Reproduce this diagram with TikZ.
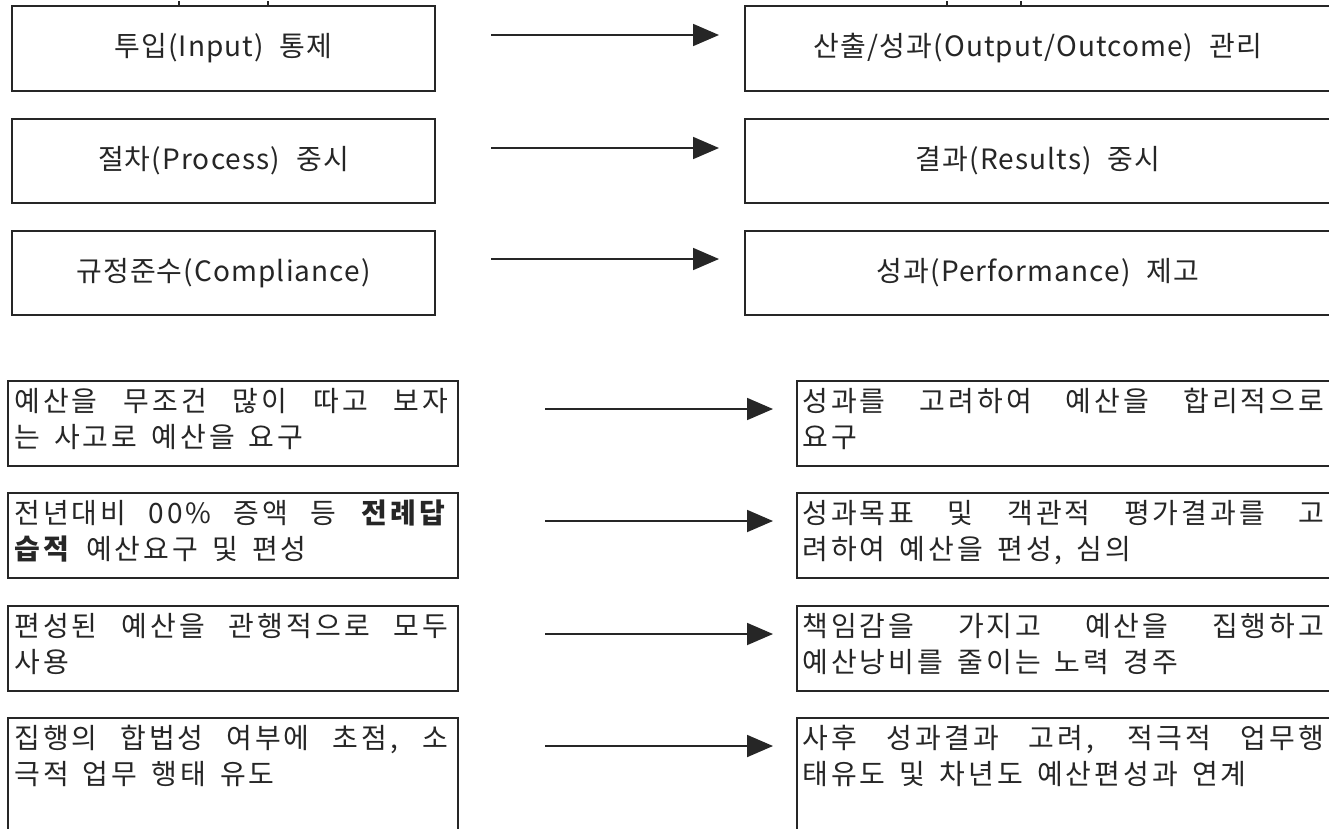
\documentclass[tikz,border=0pt]{standalone}
\usepackage{fontspec}
\setmainfont{Noto Sans CJK KR}[WordSpace=2]
\newfontfamily\topfont{Noto Sans CJK KR}[WordSpace=2, LetterSpace=4]
\newfontfamily\bodyfont{Noto Sans CJK KR}[WordSpace=1.5, LetterSpace=11]
\usetikzlibrary{arrows.meta,calc}
\newcommand{\gp}{\hspace{16pt}}
\newcommand{\jl}[2]{\rule{0pt}{24pt}\makebox[#1][s]{#2}}
\begin{document}
\begin{tikzpicture}[x=1pt,y=-1pt,
  box/.style={draw=black!85, line width=1.8pt, inner sep=0pt, fill=none},
  topbox/.style={box, font=\topfont\fontsize{28}{34}\selectfont, text=black!85},
  txt/.style={inner sep=0pt, anchor=north west, align=left, font=\bodyfont\fontsize{28}{36}\selectfont, text=black!85},
  arr/.style={line width=1.8pt, draw=black!85, -{Triangle[length=26pt,width=22pt]}},
  tick/.style={line width=1.2pt, draw=black!85}]
\useasboundingbox (0,0) rectangle (1329,828);
\clip (0,0) rectangle (1329,828);
\fill[white] (0,0) rectangle (1329,828);

% top section
\node[topbox, minimum width=423pt, minimum height=85pt] (L1) at (223.5,48.5) {투입(Input)\gp 통제};
\node[topbox, minimum width=423pt, minimum height=84pt] (L2) at (223.5,161) {절차(Process)\gp 중시};
\node[topbox, minimum width=423pt, minimum height=84pt] (L3) at (223.5,273) {규정준수(Compliance)};
\node[topbox, minimum width=586pt, minimum height=85pt] (R1) at (1038,48.5) {산출/성과(Output/Outcome)\gp 관리};
\node[topbox, minimum width=586pt, minimum height=84pt] (R2) at (1038,161) {결과(Results)\gp 중시};
\node[topbox, minimum width=586pt, minimum height=84pt] (R3) at (1038,273) {성과(Performance)\gp 제고};

\draw[tick] (179,1) -- (179,6);
\draw[tick] (268,1) -- (268,6);
\draw[tick] (947,1) -- (947,6);
\draw[tick] (1021,1) -- (1021,6);

\coordinate (a1s) at (491,35);  \coordinate (a1e) at (719,35);
\coordinate (a2s) at (491,148); \coordinate (a2e) at (719,148);
\coordinate (a3s) at (491,259); \coordinate (a3e) at (719,259);
\draw[arr] (a1s) -- (a1e);
\draw[arr] (a2s) -- (a2e);
\draw[arr] (a3s) -- (a3e);

% bottom section boxes
\node[box, minimum width=450pt, minimum height=85pt] (B1) at (233,423.5) {};
\node[box, minimum width=450pt, minimum height=85pt] (B2) at (233,535.5) {};
\node[box, minimum width=450pt, minimum height=85pt] (B3) at (233,648.5) {};
\node[box, minimum width=450pt, minimum height=132pt] (B4) at (233,784) {};
\node[box, minimum width=548pt, minimum height=85pt] (C1) at (1071,423.5) {};
\node[box, minimum width=548pt, minimum height=85pt] (C2) at (1071,535.5) {};
\node[box, minimum width=548pt, minimum height=85pt] (C3) at (1071,648.5) {};
\node[box, minimum width=548pt, minimum height=132pt] (C4) at (1071,784) {};

% bottom texts
\node[txt] (tB1) at ($(B1.north west)+(7,7)$) {\jl{434pt}{예산을 무조건 많이 따고 보자}\\는 사고로 예산을 요구};
\node[txt] (tB2) at ($(B2.north west)+(7,7)$) {\jl{434pt}{전년대비 00\% 증액 등 \textbf{전례답}}\\\textbf{습적} 예산요구 및 편성};
\node[txt] (tB3) at ($(B3.north west)+(7,7)$) {\jl{434pt}{편성된 예산을 관행적으로 모두}\\사용};
\node[txt] (tB4) at ($(B4.north west)+(7,7)$) {\jl{434pt}{집행의 합법성 여부에 초점, 소}\\극적 업무 행태 유도};
\node[txt] (tC1) at ($(C1.north west)+(6,7)$) {\jl{522pt}{성과를 고려하여 예산을 합리적으로}\\요구};
\node[txt] (tC2) at ($(C2.north west)+(6,7)$) {\jl{522pt}{성과목표 및 객관적 평가결과를 고}\\려하여 예산을 편성, 심의};
\node[txt] (tC3) at ($(C3.north west)+(6,7)$) {\jl{522pt}{책임감을 가지고 예산을 집행하고}\\예산낭비를 줄이는 노력 경주};
\node[txt] (tC4) at ($(C4.north west)+(6,7)$) {\jl{522pt}{사후 성과결과 고려, 적극적 업무행}\\태유도 및 차년도 예산편성과 연계};

\coordinate (b1s) at (545,409); \coordinate (b1e) at (773,409);
\coordinate (b2s) at (545,521); \coordinate (b2e) at (773,521);
\coordinate (b3s) at (545,634); \coordinate (b3e) at (773,634);
\coordinate (b4s) at (545,746); \coordinate (b4e) at (773,746);
\draw[arr] (b1s) -- (b1e);
\draw[arr] (b2s) -- (b2e);
\draw[arr] (b3s) -- (b3e);
\draw[arr] (b4s) -- (b4e);
\end{tikzpicture}
\end{document}
